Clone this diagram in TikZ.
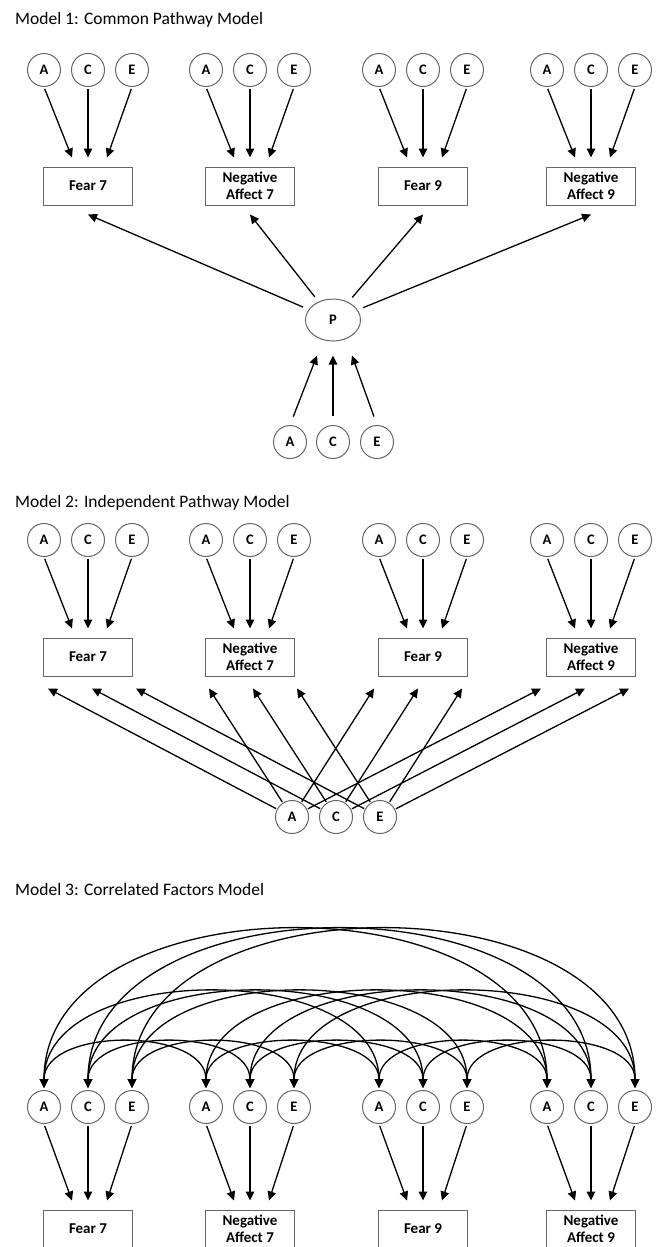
\documentclass[tikz,border=0pt]{standalone}
\usepackage{fontspec}
\setmainfont{Carlito}
\usepackage{tikz}
\usetikzlibrary{arrows.meta,shapes.geometric}

\begin{document}
\begin{tikzpicture}[x=1pt, y=-1pt,
    factor/.style={circle, draw=black!60, line width=1pt, minimum size=33pt,
                   inner sep=0pt, font=\fontsize{14.5}{14.5}\selectfont\bfseries},
    pheno/.style={rectangle, draw=black!60, line width=1pt, minimum width=89pt,
                  minimum height=38pt, inner sep=0pt, align=center,
                  font=\fontsize{15}{16.5}\selectfont\bfseries},
    heading/.style={anchor=base west, inner sep=0pt, font=\fontsize{17.5}{20}\selectfont},
    load/.style={-{Triangle[length=9pt,width=8.5pt]}, line width=1.3pt},
    corr/.style={{Triangle[length=9pt,width=8.5pt]}-{Triangle[length=9pt,width=8.5pt]},
                 line width=1.3pt}]

    \useasboundingbox (0,0) rectangle (658,1247);

    % Titles
    \node[heading] (h1) at (15,25) {Model 1: Common Pathway Model};
    \node[heading] (h2) at (15,507) {Model 2: Independent Pathway Model};
    \node[heading] (h3) at (15,895) {Model 3: Correlated Factors Model};

    % A, C, E factors and phenotypes for each model
    \foreach \m/\cy/\by in {1/70/186, 2/540/657, 3/1107/1229} {
        \foreach \g/\gx/\lab in {1/88/{Fear 7}, 2/250/{Negative\\Affect 7},
                                 3/423/{Fear 9}, 4/591/{Negative\\Affect 9}} {
            \node[factor] (a\m\g) at (\gx-44,\cy) {A};
            \node[factor] (c\m\g) at (\gx,\cy) {C};
            \node[factor] (e\m\g) at (\gx+44,\cy) {E};
            \node[pheno] (y\m\g) at (\gx,\by) {\lab};
            \draw[load, shorten <=2pt] (a\m\g.south) -- ([xshift=-16pt,yshift=9pt]y\m\g.north);
            \draw[load, shorten <=2pt] (c\m\g.south) -- ([yshift=9pt]y\m\g.north);
            \draw[load, shorten <=2pt] (e\m\g.south) -- ([xshift=19pt,yshift=9pt]y\m\g.north);
        }
    }

    % Model 1: common pathway
    \node[ellipse, draw=black!60, line width=1pt, minimum width=55pt, minimum height=42pt,
          inner sep=0pt, font=\fontsize{14.5}{14.5}\selectfont\bfseries] (p) at (333,320) {P};
    \foreach \g in {1,...,4}
        \draw[load, shorten <=6pt] (p) -- ([yshift=-9pt]y1\g.south);
    \node[factor] (pa) at (290,442) {A};
    \node[factor] (pc) at (333,442) {C};
    \node[factor] (pe) at (377,442) {E};
    \draw[load, shorten <=9pt] (pa.north) -- ([xshift=-16pt,yshift=-14pt]p.south);
    \draw[load, shorten <=9pt] (pc.north) -- ([yshift=-14pt]p.south);
    \draw[load, shorten <=9pt] (pe.north) -- ([xshift=19pt,yshift=-14pt]p.south);

    % Model 2: independent pathways
    \node[factor] (ia) at (292,817) {A};
    \node[factor] (ic) at (336,817) {C};
    \node[factor] (ie) at (380,817) {E};
    \foreach \g/\s in {1/4, 2/3, 3/-5, 4/-6} {
        \draw[load, shorten <=1pt] (ia) -- ([xshift={(\s-44)*1pt},yshift=-12pt]y2\g.south);
        \draw[load, shorten <=1pt] (ic) -- ([xshift={\s*1pt},yshift=-12pt]y2\g.south);
        \draw[load, shorten <=1pt] (ie) -- ([xshift={(\s+44)*1pt},yshift=-12pt]y2\g.south);
    }

    % Model 3: correlations between same factors
    \foreach \l in {a,c,e} {
        \foreach \i/\j/\h in {1/2/61, 2/3/61, 3/4/61, 1/3/128, 2/4/128, 1/4/211}
            \draw[corr] ([yshift=2pt]\l3\i.north) .. controls +(0,-\h) and +(0,-\h)
                .. ([yshift=2pt]\l3\j.north);
    }
\end{tikzpicture}
\end{document}
